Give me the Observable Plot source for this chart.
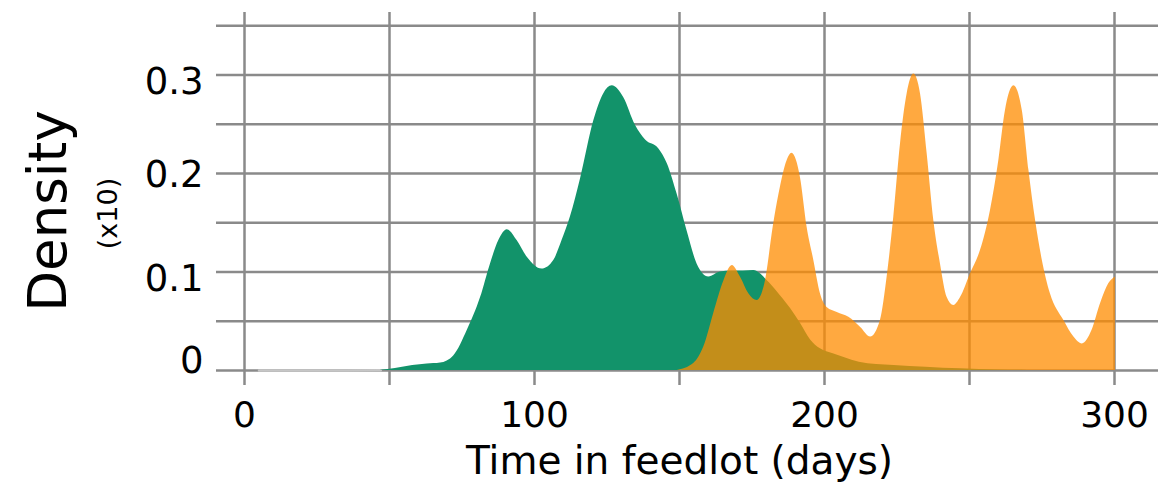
<!DOCTYPE html>
<html>
<head>
<meta charset="utf-8">
<script src="https://cdn.jsdelivr.net/npm/d3@7"></script>
<script src="https://cdn.jsdelivr.net/npm/@observablehq/plot@0.6"></script>
<style>
  html, body { margin: 0; padding: 0; background: #fff; }
  #chart svg { display: block; }
</style>
</head>
<body>
<div id="chart"></div>
<script>
// Green group: [day, density]
const greenDays = [5, 20, 35, 47, 52, 58, 63, 67.6, 72.2, 76.8, 81.4, 84.8, 87.7, 90.6, 94.0, 97.5, 102.6, 106.7, 109.5, 112.4, 115.9, 120.5, 123.9, 126.8, 130.8, 134.8, 138.3, 142.9, 145.8, 149.2, 152.6, 156.1, 160.1, 164.1, 168, 172, 175.6, 178, 179.7, 181, 184.8, 188.3, 191.7, 195.2, 198.6, 203, 207, 212, 224, 235, 247, 260, 270];
const greenDens = [0, 0, 0, 0.0003, 0.002, 0.005, 0.0065, 0.0075, 0.015, 0.0406, 0.074, 0.108, 0.132, 0.143, 0.132, 0.115, 0.103, 0.112, 0.132, 0.156, 0.195, 0.254, 0.281, 0.289, 0.277, 0.249, 0.234, 0.225, 0.21, 0.179, 0.142, 0.108, 0.095, 0.1, 0.101, 0.101, 0.1015, 0.098, 0.093, 0.089, 0.076, 0.063, 0.048, 0.031, 0.022, 0.017, 0.013, 0.0085, 0.005, 0.0034, 0.0017, 0.0005, 0];

// Orange group: [day, density]
const orangeDays = [149.2, 154.9, 158.4, 161.8, 165.3, 168.2, 171, 173.9, 176.8, 179.7, 182.3, 184.3, 187.1, 188.8, 191.7, 194.0, 196.3, 198.6, 200.9, 204.4, 208.4, 212.4, 215.9, 219.3, 221.6, 223.9, 226.2, 228.5, 230.8, 233.1, 235.4, 237.7, 240, 242.3, 244.6, 246.9, 250.3, 253.8, 257.2, 260.1, 262.4, 265.3, 268.2, 270.5, 272.8, 275.1, 277.9, 282.5, 286.0, 288.9, 292.3, 295.2, 298.0, 300.3];
const orangeDens = [0, 0.007, 0.024, 0.058, 0.091, 0.1066, 0.095, 0.078, 0.071, 0.092, 0.1455, 0.179, 0.213, 0.2206, 0.196, 0.1455, 0.112, 0.078, 0.064, 0.059, 0.054, 0.044, 0.034, 0.051, 0.095, 0.156, 0.23, 0.281, 0.301, 0.281, 0.22, 0.152, 0.108, 0.074, 0.066, 0.074, 0.098, 0.122, 0.162, 0.213, 0.264, 0.289, 0.264, 0.203, 0.152, 0.112, 0.078, 0.051, 0.034, 0.027, 0.041, 0.068, 0.088, 0.095];

const xGridTicks = [0, 50, 100, 150, 200, 250, 300];
const xLabelTicks = [0, 100, 200, 300];
const yGridTicks = [0, 0.05, 0.1, 0.15, 0.2, 0.25, 0.3, 0.35];
const yLabelTicks = [0, 0.1, 0.2, 0.3];

const xTitle = "Time in feedlot (days)";
const yTitle = "Density";
const yNote = "(x10)";

const green = greenDays.map((d, i) => ({day: d, density: greenDens[i]}));
const orange = orangeDays.map((d, i) => ({day: d, density: orangeDens[i]}));

const gridColor = "#8a8a8a";
const fmt = d => d === 0 ? "0" : String(d);

const chart = Plot.plot({
  width: 1158,
  height: 491,
  marginLeft: 216,
  marginRight: 0,
  marginTop: 12,
  marginBottom: 106,
  style: {fontFamily: "'DejaVu Sans', sans-serif", background: "#fff", color: "#000"},
  x: {domain: [-9.655, 315.17]},
  y: {domain: [-0.01523, 0.3635]},
  marks: [
    Plot.gridX(xGridTicks, {stroke: gridColor, strokeOpacity: 1, strokeWidth: 2.5}),
    Plot.gridY(yGridTicks, {stroke: gridColor, strokeOpacity: 1, strokeWidth: 2.5}),
    Plot.line(green.filter(d => d.day <= 50), {x: "day", y: "density", stroke: "#c6c6c6", strokeWidth: 2.5}),
    Plot.areaY(green.filter(d => d.day >= 47), {x: "day", y: "density", fill: "#12936A", curve: "monotone-x"}),
    Plot.areaY(orange, {x: "day", y: "density", fill: "#FF8C00", fillOpacity: 0.75, curve: "monotone-x"}),
    Plot.axisX(xLabelTicks, {tickSize: 0, tickPadding: 16, fontSize: 36, label: null, tickFormat: fmt}),
    Plot.axisY([0.3, 0.1], {tickSize: 0, tickPadding: 13, fontSize: 37, label: null, tickFormat: fmt, dy: 7}),
    Plot.axisY([0.2], {tickSize: 0, tickPadding: 13, fontSize: 37, label: null, tickFormat: fmt, dy: 2}),
    Plot.axisY([0], {tickSize: 0, tickPadding: 13, fontSize: 37, label: null, tickFormat: fmt, dy: -9}),
    Plot.text([xTitle], {text: d => d, frameAnchor: "bottom", textAnchor: "middle", lineAnchor: "bottom", dx: -8, dy: 88, fontSize: 39}),
    Plot.text([yTitle], {text: d => d, frameAnchor: "left", textAnchor: "middle", rotate: -90, lineAnchor: "bottom", dx: -151, dy: 12, fontSize: 53}),
    Plot.text([yNote], {text: d => d, frameAnchor: "left", textAnchor: "middle", rotate: -90, lineAnchor: "bottom", dx: -100, dy: 14.5, fontSize: 27})
  ]
});
document.getElementById("chart").appendChild(chart);
</script>
</body>
</html>
